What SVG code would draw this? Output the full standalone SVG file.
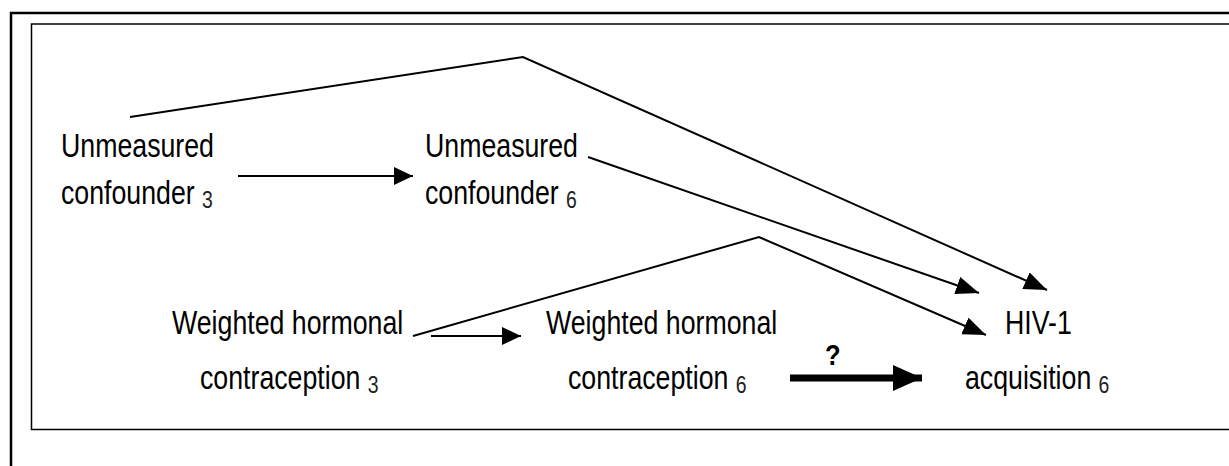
<svg xmlns="http://www.w3.org/2000/svg" width="1229" height="466" viewBox="0 0 1229 466">
<style>
.t{font-family:"Liberation Sans",Arial,sans-serif;font-size:33px;fill:#000}
.sub{font-size:24px;fill:#222}
.q{font-family:"Liberation Sans",Arial,sans-serif;font-size:30px;font-weight:bold;fill:#000}
.ln{fill:none;stroke:#000;stroke-width:2}
</style>
<defs>
<marker id="ah" markerUnits="userSpaceOnUse" markerWidth="20" markerHeight="18" refX="19" refY="9" orient="auto">
<path d="M0,0 L19,9 L0,18 z" fill="#000"/>
</marker>
<marker id="ahd" markerUnits="userSpaceOnUse" markerWidth="24" markerHeight="20" refX="23" refY="9" orient="auto">
<path d="M0,0 L23,9 L0,18 z" fill="#000"/>
</marker>
<marker id="ahb" markerUnits="userSpaceOnUse" markerWidth="30" markerHeight="28" refX="29" refY="13" orient="auto">
<path d="M0,0 L29,13 L0,26 z" fill="#000"/>
</marker>
</defs>
<rect width="1229" height="466" fill="#fff"/>
<g id="frame">
<path d="M11,470 L11,13 L1235,13" fill="none" stroke="#000" stroke-width="2.5"/>
<path d="M1235,24 L31.5,24 L31.5,429.5 L1235,429.5" fill="none" stroke="#000" stroke-width="1.5"/>
</g>
<g id="connectors">
<line class="ln" x1="238" y1="176" x2="413" y2="176" marker-end="url(#ah)"/>
<line class="ln" x1="431" y1="336" x2="521" y2="336" marker-end="url(#ah)"/>
<line x1="790" y1="378" x2="922" y2="378" stroke="#000" stroke-width="7" marker-end="url(#ahb)"/>
<polyline class="ln" points="130,117 523,57 1047,290" marker-end="url(#ahd)"/>
<line class="ln" x1="588" y1="157" x2="979" y2="293" marker-end="url(#ahd)"/>
<polyline class="ln" points="413,336 759,237 986,335" marker-end="url(#ahd)"/>
<text class="q" transform="translate(825,365) scale(0.85,1)">?</text>
</g>
<g id="u3">
<text class="t" transform="translate(61,157) scale(0.81,1)">Unmeasured</text>
<text class="t" transform="translate(61,204) scale(0.81,1)">confounder<tspan class="sub" dx="9" dy="4">3</tspan></text>
</g>
<g id="u6">
<text class="t" transform="translate(425,157) scale(0.81,1)">Unmeasured</text>
<text class="t" transform="translate(425,204) scale(0.81,1)">confounder<tspan class="sub" dx="9" dy="4">6</tspan></text>
</g>
<g id="whc3">
<text class="t" transform="translate(172,334) scale(0.81,1)">Weighted hormonal</text>
<text class="t" transform="translate(200,389) scale(0.81,1)">contraception<tspan class="sub" dx="9" dy="4">3</tspan></text>
</g>
<g id="whc6">
<text class="t" transform="translate(546,334) scale(0.81,1)">Weighted hormonal</text>
<text class="t" transform="translate(568,389) scale(0.81,1)">contraception<tspan class="sub" dx="9" dy="4">6</tspan></text>
</g>
<g id="hiv">
<text class="t" transform="translate(1005,334) scale(0.81,1)">HIV-1</text>
<text class="t" transform="translate(965,389) scale(0.81,1)">acquisition<tspan class="sub" dx="9" dy="4">6</tspan></text>
</g>
</svg>
